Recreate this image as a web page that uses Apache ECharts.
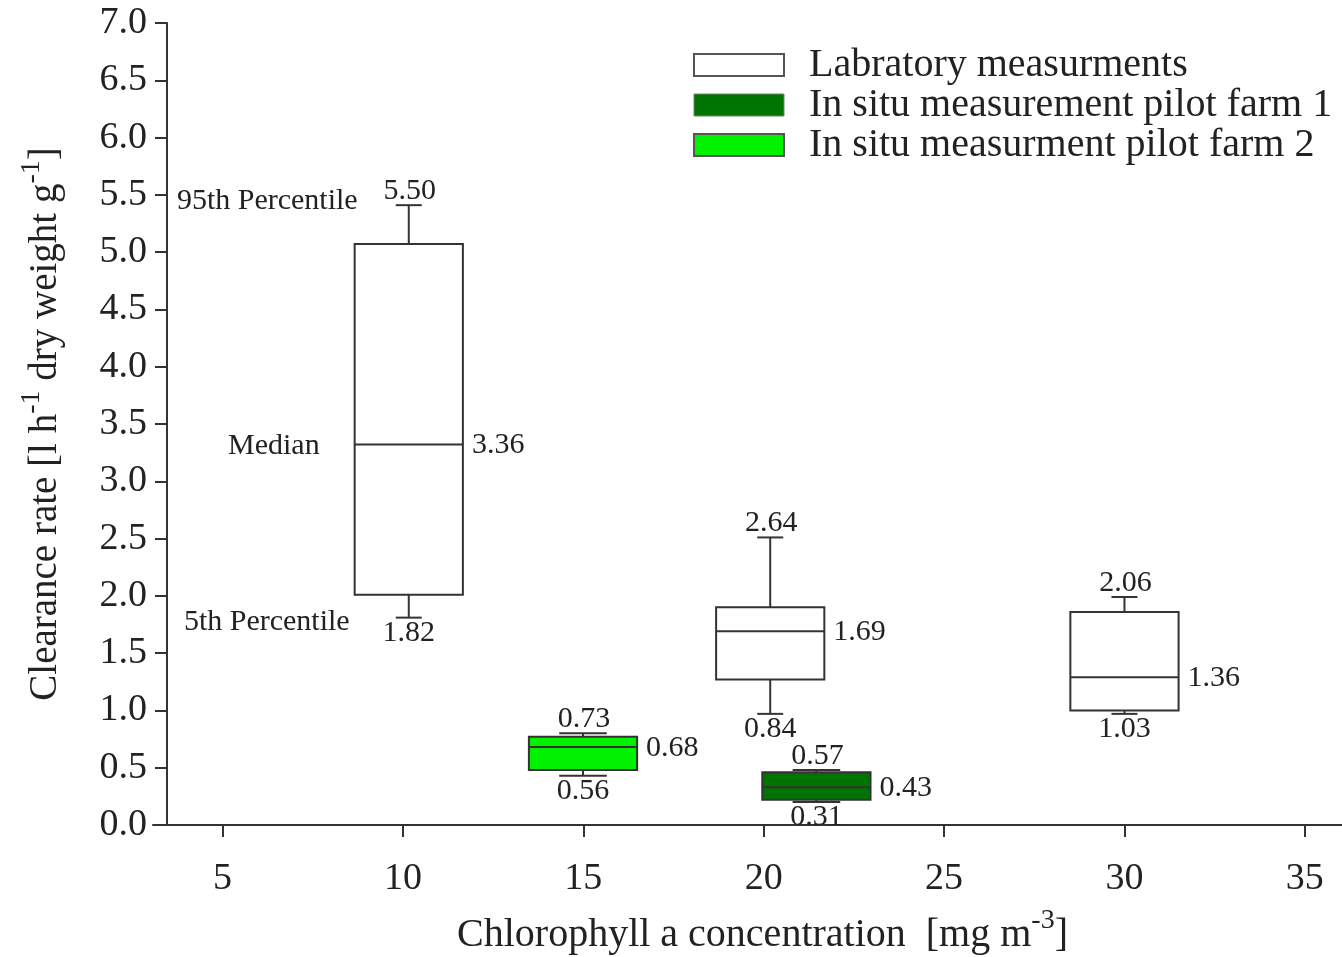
<!DOCTYPE html>
<html>
<head>
<meta charset="utf-8">
<title>Clearance rate vs chlorophyll a</title>
<script src="https://cdn.jsdelivr.net/npm/echarts@6/dist/echarts.min.js"></script>
<style>
  html, body { margin: 0; padding: 0; background: #fff; }
  #chart { width: 1342px; height: 957px; }
</style>
</head>
<body>
<div id="chart"></div>
<script>
// box statistics (whisker low, box low, median, box high, whisker high)
var seriesNames = ['Labratory measurments', 'In situ measurement pilot farm 1', 'In situ measurment pilot farm 2'];

var labX = [10.16, 20.18, 30.0];
var labLow = [1.81, 0.97, 0.97];
var labQ1 = [2.01, 1.27, 1.00];
var labMed = [3.32, 1.69, 1.29];
var labQ3 = [5.07, 1.90, 1.86];
var labHigh = [5.41, 2.51, 1.99];
var labLabels = [['5.50', '3.36', '1.82'], ['2.64', '1.69', '0.84'], ['2.06', '1.36', '1.03']];

var farm1X = [21.46];
var farm1Low = [0.20];
var farm1Q1 = [0.22];
var farm1Med = [0.33];
var farm1Q3 = [0.46];
var farm1High = [0.48];
var farm1Labels = [['0.57', '0.43', '0.31']];

var farm2X = [14.99];
var farm2Low = [0.43];
var farm2Q1 = [0.48];
var farm2Med = [0.68];
var farm2Q3 = [0.77];
var farm2High = [0.80];
var farm2Labels = [['0.73', '0.68', '0.56']];

var xTicks = [5, 10, 15, 20, 25, 30, 35];
var annoText = ['95th Percentile', 'Median', '5th Percentile'];

var FONT = 'Liberation Serif';
var INK = '#222';
var STROKE = '#333';

var rows = function (xs, lo, q1, med, q3, hi) {
  var out = [];
  for (var i = 0; i < xs.length; i++) {
    out.push([xs[i], lo[i], q1[i], med[i], q3[i], hi[i]]);
  }
  return out;
};

var makeRender = function (labels, capHalf, withAnno) {
  return function (params, api) {
    var x = api.value(0);
    var lo = api.coord([x, api.value(1)]);
    var q1 = api.coord([x, api.value(2)]);
    var med = api.coord([x, api.value(3)]);
    var q3 = api.coord([x, api.value(4)]);
    var hi = api.coord([x, api.value(5)]);
    var left = api.coord([x - 1.5, 0])[0];
    var right = api.coord([x + 1.5, 0])[0];
    var capL = api.coord([x - capHalf, 0])[0];
    var capR = api.coord([x + capHalf, 0])[0];
    var fill = api.visual('color');
    var line = { stroke: STROKE, lineWidth: 2 };
    var txt = function (text, px, py, align) {
      return {
        type: 'text',
        style: {
          text: text, x: px, y: py, fill: INK,
          font: '30px "' + FONT + '"', align: align, verticalAlign: 'middle'
        }
      };
    };
    var lab = labels[params.dataIndex];
    var children = [
      { type: 'line', shape: { x1: hi[0], y1: hi[1], x2: q3[0], y2: q3[1] }, style: line },
      { type: 'line', shape: { x1: capL, y1: hi[1], x2: capR, y2: hi[1] }, style: line },
      { type: 'line', shape: { x1: lo[0], y1: lo[1], x2: q1[0], y2: q1[1] }, style: line },
      { type: 'line', shape: { x1: capL, y1: lo[1], x2: capR, y2: lo[1] }, style: line },
      { type: 'rect', shape: { x: left, y: q3[1], width: right - left, height: q1[1] - q3[1] },
        style: { fill: fill, stroke: STROKE, lineWidth: 2 } },
      { type: 'line', shape: { x1: left, y1: med[1], x2: right, y2: med[1] }, style: line },
      txt(lab[0], hi[0] + 1, hi[1] - 14, 'center'),
      txt(lab[1], right + 9, med[1] + 1, 'left'),
      txt(lab[2], lo[0], lo[1] + 15, 'center')
    ];
    if (withAnno && params.dataIndex === 0) {
      children.push(txt(annoText[0], left + 3, hi[1] - 4, 'right'));
      children.push(txt(annoText[1], left - 35, med[1] + 2, 'right'));
      children.push(txt(annoText[2], left - 5, lo[1] + 4, 'right'));
    }
    return { type: 'group', children: children };
  };
};

var boxSeries = function (name, color, data, labels, capHalf, withAnno) {
  return {
    name: name,
    type: 'custom',
    clip: false,
    itemStyle: { color: color },
    encode: { x: 0, y: [1, 2, 3, 4, 5] },
    renderItem: makeRender(labels, capHalf, withAnno),
    data: data,
    z: 3
  };
};

// superscript style: bottom padding lifts the small text above the main line
var supStyle = { fontFamily: FONT, fontSize: 28, color: INK, lineHeight: 26, padding: [0, 0, 28, 0] };

var chart = echarts.init(document.getElementById('chart'));

var option = {
  backgroundColor: '#fff',
  animation: false,
  textStyle: { fontFamily: FONT, color: INK },
  grid: { left: 153, right: 0, top: 23, bottom: 132, containLabel: false, outerBoundsMode: 'none' },
  legend: {
    orient: 'vertical',
    left: 693,
    top: 45,
    padding: 0,
    itemWidth: 90,
    itemHeight: 22,
    itemGap: 0,
    selectedMode: false,
    textStyle: { fontFamily: FONT, fontSize: 40, color: INK, lineHeight: 40, padding: [0, 0, 0, 20] },
    data: [
      { name: seriesNames[0], icon: 'rect', itemStyle: { color: '#fff', borderColor: '#555', borderWidth: 2 } },
      { name: seriesNames[1], icon: 'rect', itemStyle: { color: '#007400', borderColor: '#6a8a6a', borderWidth: 1 } },
      { name: seriesNames[2], icon: 'rect', itemStyle: { color: '#00f200', borderColor: '#555', borderWidth: 2 } }
    ]
  },
  xAxis: {
    type: 'value',
    min: 3.07,
    max: 36.03,
    splitLine: { show: false },
    axisLine: { onZero: false, lineStyle: { color: STROKE, width: 2 } },
    axisTick: { customValues: xTicks, length: 12, lineStyle: { color: STROKE, width: 2 } },
    axisLabel: { customValues: xTicks, fontFamily: FONT, fontSize: 38, color: INK, margin: 35 },
    name: '{a|Chlorophyll a concentration  [mg m}{s|-3}{a|]}',
    nameLocation: 'middle',
    nameGap: 83,
    nameTextStyle: {
      padding: [0, 0, 0, 30],
      rich: {
        a: { fontFamily: FONT, fontSize: 40, color: INK, lineHeight: 54 },
        s: supStyle
      }
    }
  },
  yAxis: {
    type: 'value',
    min: 0,
    max: 7,
    interval: 0.5,
    offset: -14,
    splitLine: { show: false },
    axisLine: { show: true, lineStyle: { color: STROKE, width: 2 } },
    axisTick: { show: true, length: 12, lineStyle: { color: STROKE, width: 2 } },
    axisLabel: {
      fontFamily: FONT, fontSize: 38, color: INK, margin: 20,
      formatter: function (v) { return v.toFixed(1); }
    },
    name: '{a|Clearance rate [l h}{s|-1}{a| dry weight g}{s|-1}{a|]}',
    nameLocation: 'middle',
    nameGap: 94,
    nameTextStyle: {
      rich: {
        a: { fontFamily: FONT, fontSize: 39, color: INK, lineHeight: 54 },
        s: supStyle
      }
    }
  },
  series: [
    boxSeries(seriesNames[0], '#fff', rows(labX, labLow, labQ1, labMed, labQ3, labHigh), labLabels, 0.36, true),
    boxSeries(seriesNames[1], '#007400', rows(farm1X, farm1Low, farm1Q1, farm1Med, farm1Q3, farm1High), farm1Labels, 0.66, false),
    boxSeries(seriesNames[2], '#00f200', rows(farm2X, farm2Low, farm2Q1, farm2Med, farm2Q3, farm2High), farm2Labels, 0.66, false)
  ]
};

chart.setOption(option);
</script>
</body>
</html>
